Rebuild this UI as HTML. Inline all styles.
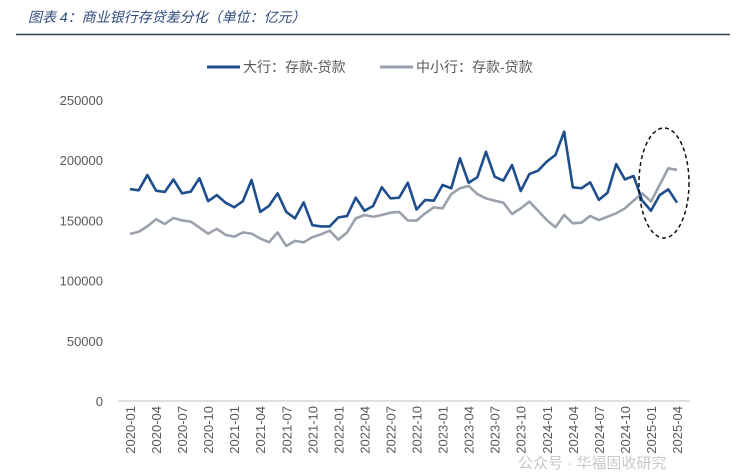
<!DOCTYPE html>
<html><head><meta charset="utf-8"><style>
body{margin:0;background:#fff;width:745px;height:472px;overflow:hidden;font-family:"Liberation Sans","Noto Sans CJK SC",sans-serif}
svg{display:block}
</style></head><body>
<svg id="chart" width="745" height="472">
<text x="28" y="22" font-size="14" font-style="italic" fill="#2e4a7a" font-family="Liberation Sans,Noto Sans CJK SC,sans-serif">图表 4：商业银行存贷差分化（单位：亿元）</text>
<line x1="16" y1="34.5" x2="730" y2="34.5" stroke="#2b3f55" stroke-width="1.5"/>
<g>
<g><line x1="207" y1="67" x2="240" y2="67" stroke="#1f4e8c" stroke-width="3"/><text x="243" y="72" font-size="14" fill="#595959">大行：存款-贷款</text></g>
<g><line x1="380" y1="67" x2="413" y2="67" stroke="#9aa1ad" stroke-width="3"/><text x="416" y="72" font-size="14" fill="#595959">中小行：存款-贷款</text></g>
</g>
<g id="yaxis"></g>
<g id="xaxis"></g>
<g id="series"></g>
<ellipse cx="664" cy="183" rx="25" ry="55" fill="none" stroke="#111" stroke-width="1.5" stroke-dasharray="4,3"/>
<text x="518" y="468" font-size="15" fill="#c8c8c8">公众号 · 华福固收研究</text>
</svg>
<script>
const yTicks=[0,50000,100000,150000,200000,250000];
const bigBanks=[176,175,187.7,174.7,173.6,184,172.5,173.9,185,166,171,164.7,160.9,166,183.6,157,162,172.5,157,151.7,165,146,145,145,152.5,153.6,168.9,158,162,177.5,168.3,168.9,181.3,159,167,166.4,179.4,176.7,201.6,181.3,185.8,207,186.3,183,196,174.4,188.5,191.3,198.8,204.3,223.7,177.5,176.7,181.6,167,173,196.8,184,186.9,166.4,158,171,175.8,164.7];
const smallBanks=[138.7,140.6,145,151,147,152,150,149,144,139,143,138,136.5,140,139,135,131.8,140,128.7,133,131.8,136,138.4,141.5,134,140,151.7,154.5,153,154.5,156.4,157,150,149.8,155.9,160.9,160,171.9,176.7,178.6,171.9,168.3,166.4,164.7,155.3,160,165.6,158,150.3,144.3,154.5,147.6,148.1,153.7,150.3,153.1,155.9,160,166.4,172.5,165.6,179.4,193.3,191.9];
const startYear=2020,startMonth=1,labelStep=3;
const NS="http://www.w3.org/2000/svg";
const x0=130,x1=677,yBase=401,yTop=100,yMax=250000;
const n=bigBanks.length;
function xs(i){return x0+(x1-x0)*i/(n-1);}
function ys(v){return yBase-(yBase-yTop)*v/yMax;}
function mk(tag,attrs,parent){const e=document.createElementNS(NS,tag);for(const k in attrs)e.setAttribute(k,attrs[k]);parent.appendChild(e);return e;}
const ya=document.getElementById('yaxis');
yTicks.forEach(t=>{const e=mk('text',{x:103,y:ys(t)+5,'text-anchor':'end','font-size':13,fill:'#595959'},ya);e.textContent=t;

});
const xa=document.getElementById('xaxis');
const ax=mk('line',{x1:118,y1:yBase,x2:690,y2:yBase,stroke:'#bfbfbf','stroke-width':1},xa);


for(let i=0;i<n;i+=labelStep){const m=startMonth-1+i;const lab=(startYear+Math.floor(m/12))+'-'+String(m%12+1).padStart(2,'0');
const t=mk('text',{x:0,y:0,transform:`translate(${xs(i)+5},${yBase+5}) rotate(-90)`,'text-anchor':'end','font-size':13,fill:'#595959'},xa);t.textContent=lab;

}
const sg=document.getElementById('series');
function line(arr,color,name){const p=mk('polyline',{points:arr.map((v,i)=>xs(i)+','+ys(v*1000)).join(' '),fill:'none',stroke:color,'stroke-width':2.6,'stroke-linejoin':'round'},sg);

}
line(smallBanks,'#9aa1ad','small-banks-line');
line(bigBanks,'#1f4e8c','large-banks-line');
</script>
</body></html>
